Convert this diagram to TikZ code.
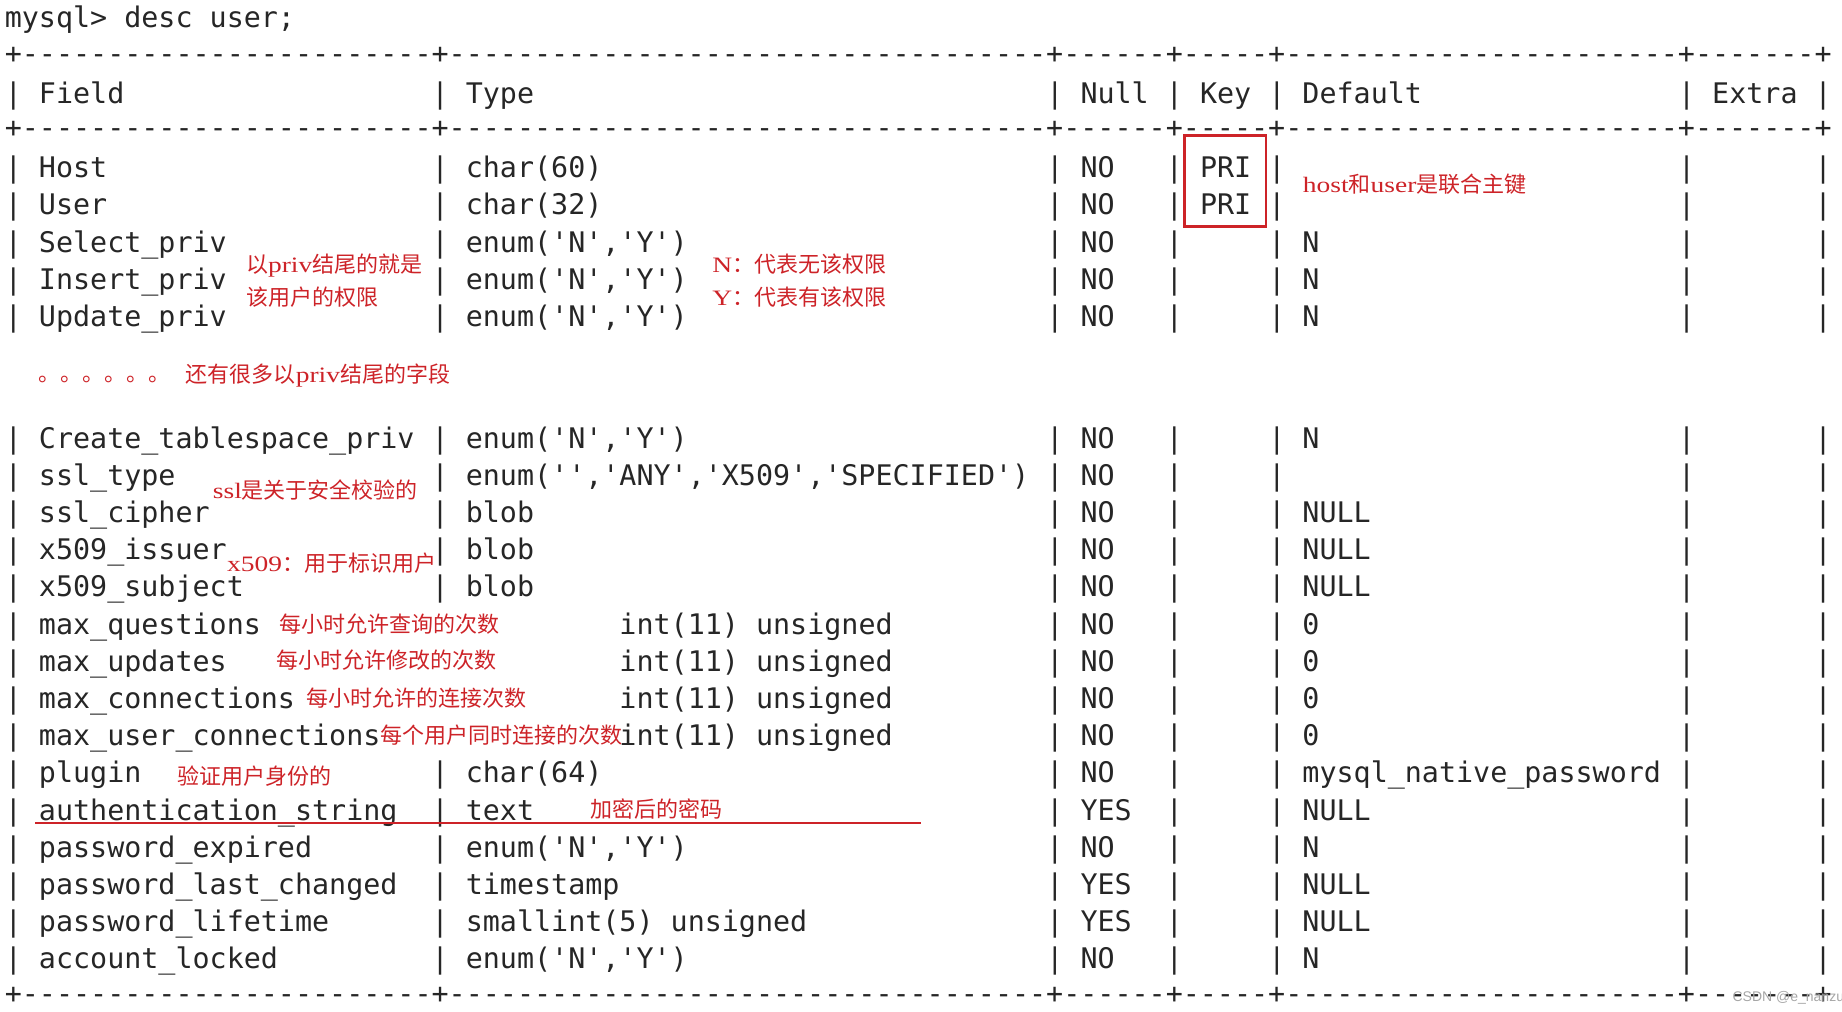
\documentclass[tikz,border=0pt]{standalone}
\usepackage{fontspec}
\setmonofont{DejaVu Sans Mono}
\newfontfamily\cjk{Noto Sans CJK SC}
\newfontfamily\lat[FakeStretch=1.25]{Liberation Serif}
\newfontfamily\wmfont{Liberation Sans}
\definecolor{notered}{RGB}{205,35,40}
\newcommand\dashes[1]{\foreach\i in {1,...,#1}{-}}
\newcommand\la[1]{{\lat #1}}
\def\cx{3.75}
\def\cw{14.46}
\tikzset{
  cell/.style={anchor=base west,inner sep=0pt,text=black!85,
    font=\ttfamily\fontsize{14.18}{17}\selectfont},
  note/.style={anchor=base west,inner sep=0pt,text=notered,
    font=\cjk\fontsize{11}{13}\selectfont},
  redline/.style={draw=notered,line width=1.3pt}
}
\begin{document}
\begin{tikzpicture}[x=0.5904pt,y=-0.5904pt]
    \useasboundingbox (0,0) rectangle (1560,857);
    \node[cell] (prompt) at (\cx,23.5) {mysql> desc user;};
    \foreach \y [count=\b] in {47,110,843}
        \node[cell] (border\b) at (\cx,\y+6.5) {+\dashes{24}+\dashes{35}+\dashes{6}+\dashes{5}+\dashes{23}+\dashes{7}+};
    \foreach \c in {0,25,61,68,74,98,106}
        \node[cell] (hbar\c) at ({\cx+\c*\cw},87.5) {|};
    \node[cell] (hfield) at ({\cx+2*\cw},87.5) {Field};
    \node[cell] (htype) at ({\cx+27*\cw},87.5) {Type};
    \node[cell] (hnull) at ({\cx+63*\cw},87.5) {Null};
    \node[cell] (hkey) at ({\cx+70*\cw},87.5) {Key};
    \node[cell] (hdefault) at ({\cx+76*\cw},87.5) {Default};
    \node[cell] (hextra) at ({\cx+100*\cw},87.5) {Extra};
    \foreach \y/\f/\t/\n/\k/\d [count=\r] in {
        142/Host/char(60)/NO/PRI/,
        173.5/User/char(32)/NO/PRI/,
        205/Select\_priv/{enum('N','Y')}/NO//N,
        236.5/Insert\_priv/{enum('N','Y')}/NO//N,
        268/Update\_priv/{enum('N','Y')}/NO//N,
        371/Create\_tablespace\_priv/{enum('N','Y')}/NO//N,
        402.5/ssl\_type/{enum('','ANY','X509','SPECIFIED')}/NO//,
        434/ssl\_cipher/blob/NO//NULL,
        465.5/x509\_issuer/blob/NO//NULL,
        497/x509\_subject/blob/NO//NULL,
        654.5/plugin/char(64)/NO//mysql\_native\_password,
        686/authentication\_string/text/YES//NULL,
        717.5/password\_expired/{enum('N','Y')}/NO//N,
        749/password\_last\_changed/timestamp/YES//NULL,
        780.5/password\_lifetime/smallint(5) unsigned/YES//NULL,
        812/account\_locked/{enum('N','Y')}/NO//N}{
        \foreach \c in {0,25,61,68,74,98,106}
            \node[cell] (bar\r-\c) at ({\cx+\c*\cw},\y+8.5) {|};
        \node[cell] (field\r) at ({\cx+2*\cw},\y+8.5) {\f};
        \node[cell] (type\r) at ({\cx+27*\cw},\y+8.5) {\t};
        \node[cell] (null\r) at ({\cx+63*\cw},\y+8.5) {\n};
        \node[cell] (key\r) at ({\cx+70*\cw},\y+8.5) {\k};
        \node[cell] (default\r) at ({\cx+76*\cw},\y+8.5) {\d};
    }
    \foreach \y/\f [count=\r] in {528.5/max\_questions,560/max\_updates,
        591.5/max\_connections,623/max\_user\_connections}{
        \foreach \c in {0,61,68,74,98,106}
            \node[cell] (mbar\r-\c) at ({\cx+\c*\cw},\y+8.5) {|};
        \node[cell] (mfield\r) at ({\cx+2*\cw},\y+8.5) {\f};
        \node[cell] (mtype\r) at ({\cx+36*\cw},\y+8.5) {int(11) unsigned};
        \node[cell] (mnull\r) at ({\cx+63*\cw},\y+8.5) {NO};
        \node[cell] (mdefault\r) at ({\cx+76*\cw},\y+8.5) {0};
    }
    \draw[redline] (1003,115) rectangle (1072,192);
    \draw[redline] (30,697) -- (780,697);
    \node[note] (privA) at (208,231) {以\la{priv}结尾的就是};
    \node[note] (privB) at (208,259) {该用户的权限};
    \node[note] (enumN) at (603,231) {\la{N}：代表无该权限};
    \node[note] (enumY) at (603,259) {\la{Y}：代表有该权限};
    \node[note] (pkey) at (1103,163) {\la{host}和\la{user}是联合主键};
    \node[note] (dots) at (32,323.5) {。。。。。。};
    \node[note] (more) at (157,324) {还有很多以\la{priv}结尾的字段};
    \node[note] (ssl) at (180,422) {\la{ssl}是关于安全校验的};
    \node[note] (x509) at (192,484) {\la{x509}：用于标识用户};
    \node[note] (maxq) at (236,536) {每小时允许查询的次数};
    \node[note] (maxu) at (234,566) {每小时允许修改的次数};
    \node[note] (maxc) at (259,598) {每小时允许的连接次数};
    \node[note] (maxuc) at (322,630) {每个用户同时连接的次数};
    \node[note] (plug) at (150,664) {验证用户身份的};
    \node[note] (auth) at (500,692) {加密后的密码};
    \node[anchor=base west,inner sep=0pt,text=black!35,font=\wmfont\fontsize{7}{8}\selectfont] (wm) at (1467,848) {CSDN @e\_nanzu};
\end{tikzpicture}
\end{document}
